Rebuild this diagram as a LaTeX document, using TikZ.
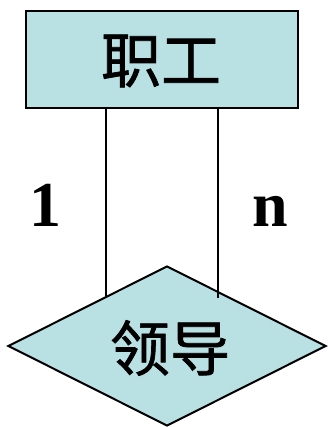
\documentclass[tikz,border=0pt]{standalone}
\usepackage{fontspec}
\setmainfont{Liberation Serif}
\newfontfamily\cjk[FakeBold=1.2]{Noto Sans CJK SC}
\usetikzlibrary{shapes.geometric}
\definecolor{boxfill}{RGB}{185,224,227}
\begin{document}
\begin{tikzpicture}[x=1pt,y=-1pt,
  ent/.style={draw=black,line width=2pt,fill=boxfill,rectangle,minimum width=272pt,minimum height=97pt,inner sep=0pt},
  rel/.style={draw=black,line width=2pt,fill=boxfill,diamond,minimum width=318pt,minimum height=160pt,inner sep=0pt},
  conn/.style={draw=black,line width=1.6pt},
  card/.style={font=\fontsize{64}{64}\selectfont\bfseries,inner sep=0pt}]
\useasboundingbox (0,0) rectangle (327,427);
\node[rel] (d) at (167,346) {};
\node[font=\cjk\fontsize{60}{60}\selectfont,inner sep=0pt] (dt) at (170,348) {领导};
\node[ent] (e) at (161.5,59.5) {};
\node[font=\cjk\fontsize{60}{60}\selectfont,inner sep=0pt] (et) at (161,61) {职工};
\coordinate (l1) at (106,298);
\coordinate (l2) at (218,298);
\draw[conn] (e.south -| l1) -- (l1);
\draw[conn] (e.south -| l2) -- (l2);
\node[card,anchor=base] (c1) at (45,226) {1};
\node[card,anchor=base] (c2) at (270,226) {n};
\end{tikzpicture}
\end{document}
